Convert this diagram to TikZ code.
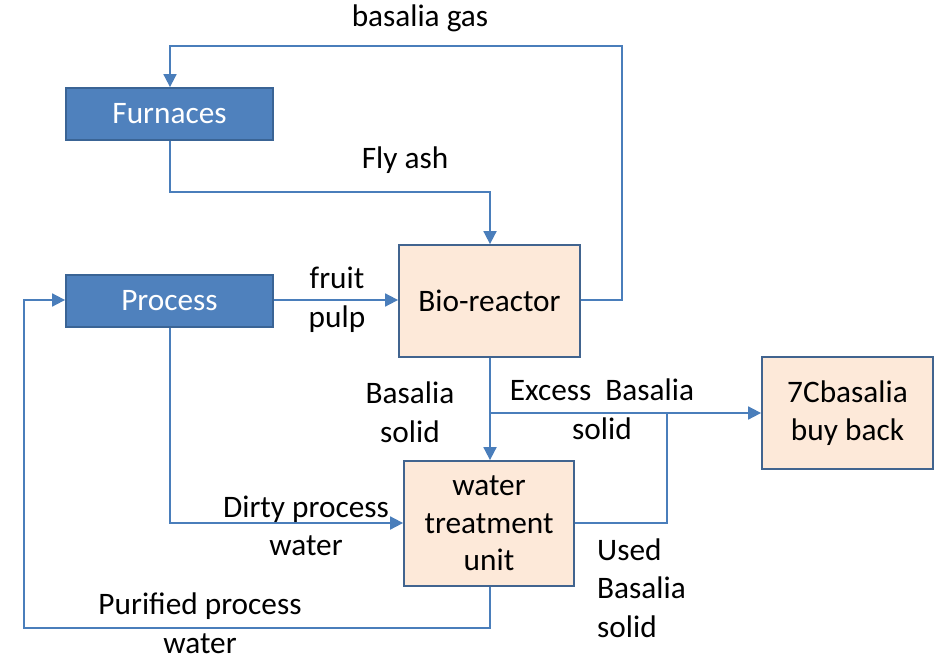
\documentclass[tikz,border=0pt]{standalone}
\usepackage{fontspec}
\setmainfont{Carlito}
\usetikzlibrary{arrows.meta}
\definecolor{procblue}{HTML}{4F81BD}
\definecolor{procedge}{HTML}{3A6495}
\definecolor{unitfill}{HTML}{FDE9D9}
\definecolor{unitedge}{HTML}{41648F}
\definecolor{flowblue}{HTML}{4A7EBB}
\tikzset{
  base/.style={rectangle, inner sep=0pt, line width=1.8pt, font=\fontsize{31.3}{37.5}\selectfont, align=center},
  procbox/.style={base, fill=procblue, draw=procedge, text=white},
  unitbox/.style={base, fill=unitfill, draw=unitedge, text=black},
  flow/.style={draw=flowblue, line width=1.8pt, -{Triangle[length=13pt, width=13pt]}},
  plainflow/.style={draw=flowblue, line width=1.8pt},
  lbl/.style={font=\fontsize{31.3}{38.5}\selectfont, align=center, inner sep=0pt}
}
\begin{document}
\begin{tikzpicture}[x=1pt, y=-1pt]
\useasboundingbox (0,0) rectangle (945,658);

% process units
\node[procbox, minimum width=207pt, minimum height=52pt] (furn) at (169.5,114) {Furnaces};
\node[procbox, minimum width=207pt, minimum height=52pt] (proc) at (169.5,301) {Process};
\node[unitbox, minimum width=181pt, minimum height=112pt] (bio) at (489.5,301) {Bio-reactor};
\node[unitbox, minimum width=170pt, minimum height=125pt] (wtu) at (489,523.5) {water\\treatment\\unit};
\node[unitbox, minimum width=171pt, minimum height=112pt] (buy) at (847.5,413) {7Cbasalia\\buy back};

% routing points
\coordinate (gasR) at (622,300);
\coordinate (gasTR) at (622,46);
\coordinate (gasTL) at (170,46);
\coordinate (ashL) at (170,192);
\coordinate (ashR) at (490,192);
\coordinate (split) at (490,413);
\coordinate (usedR) at (667,523);
\coordinate (usedT) at (667,413);
\coordinate (dirtyC) at (170,523);
\coordinate (purB) at (490,628);
\coordinate (purBL) at (24,628);
\coordinate (purTL) at (24,300);

% flows
\draw[flow] (bio.east |- gasR) -- (gasR) -- (gasTR) -- (gasTL) -- (furn.north -| gasTL);
\draw[flow] (furn.south -| ashL) -- (ashL) -- (ashR) -- (bio.north -| ashR);
\draw[flow] (proc.east |- 0,300) -- (bio.west |- 0,300);
\draw[flow] (bio.south -| split) -- (wtu.north -| split);
\draw[flow] (split) -- (buy.west |- split);
\draw[plainflow] (wtu.east |- usedR) -- (usedR) -- (usedT);
\draw[flow] (proc.south -| dirtyC) -- (dirtyC) -- (wtu.west |- dirtyC);
\draw[flow] (wtu.south -| purB) -- (purB) -- (purBL) -- (purTL) -- (proc.west |- purTL);

% flow labels
\node[lbl] (lgas) at (420,18) {basalia gas};
\node[lbl] (lash) at (405,160) {Fly ash};
\node[lbl] (lpulp) at (337,300) {fruit\\pulp};
\node[lbl] (lsolid) at (410,412) {Basalia\\solid};
\node[lbl] (lexcess) at (602,409) {Excess\ \ Basalia\\solid};
\node[lbl] (ldirty) at (306,526) {Dirty process\\water};
\node[lbl, align=left, anchor=west] (lused) at (597,588) {Used\\Basalia\\solid};
\node[lbl] (lpure) at (200,623) {Purified process\\water};
\end{tikzpicture}
\end{document}
